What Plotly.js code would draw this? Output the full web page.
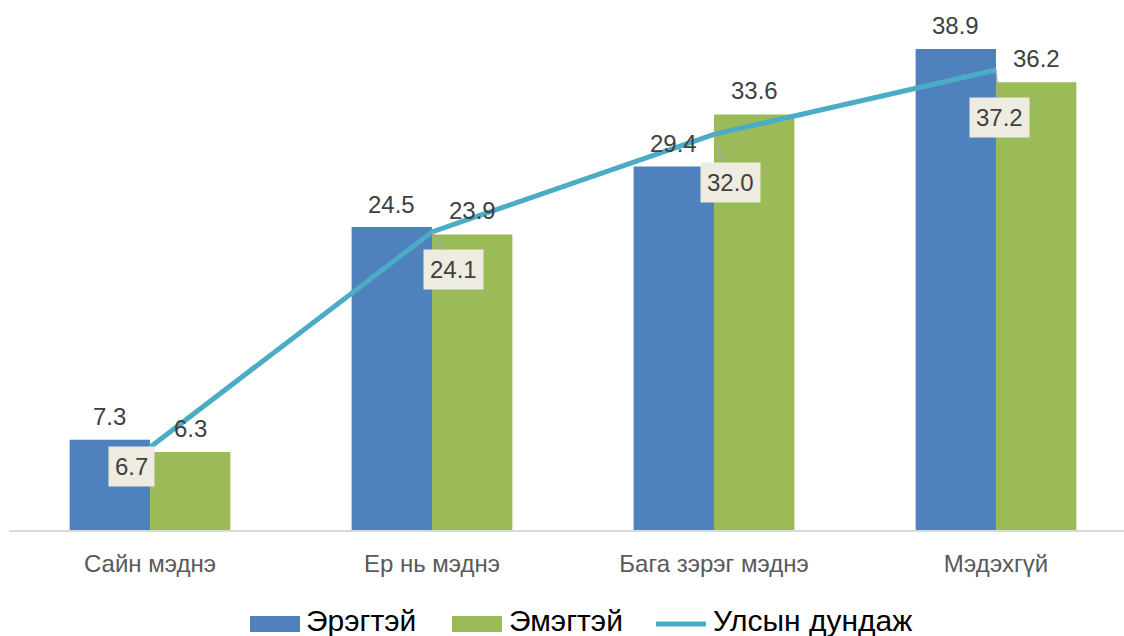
<!DOCTYPE html>
<html>
<head>
<meta charset="utf-8">
<script src="https://cdn.plot.ly/plotly-3.0.1.min.js"></script>
<style>html,body{margin:0;padding:0;background:#fff;}#chart{width:1124px;height:636px;}</style>
</head>
<body>
<div id="chart"></div>
<script>
// ---- data ----
const categories = ["Сайн мэднэ", "Ер нь мэднэ", "Бага зэрэг мэднэ", "Мэдэхгүй"];
const maleValues = [7.3, 24.5, 29.4, 38.9];
const femaleValues = [6.3, 23.9, 33.6, 36.2];
const nationalAvg = [6.7, 24.1, 32.0, 37.2];
const seriesNames = ["Эрэгтэй", "Эмэгтэй", "Улсын дундаж"];

// ---- styles ----
const blue = "#4F81BD", green = "#9BBB59", teal = "#4BACC6";
const barW = 0.285;
const avgLabelOffsets = [[-19, 19], [22, 38], [17, 48], [4, 48]];
const xIdx = categories.map((c, i) => i);

const traces = [
  {type: "bar", x: xIdx, y: maleValues, name: seriesNames[0], width: barW, offset: -barW,
   marker: {color: blue}, hoverinfo: "y"},
  {type: "bar", x: xIdx, y: femaleValues, name: seriesNames[1], width: barW, offset: 0,
   marker: {color: green}, hoverinfo: "y"},
  {type: "scatter", mode: "lines", x: xIdx, y: nationalAvg, name: seriesNames[2],
   line: {color: teal, width: 5}, hoverinfo: "y"}
];

const annotations = [];
const labelFont = {family: "Liberation Sans, Arial, sans-serif", size: 24, color: "#404040"};
maleValues.forEach((v, i) => annotations.push({x: i - barW / 2, y: v, xref: "x", yref: "y",
  text: v.toFixed(1), showarrow: false, yanchor: "middle", yshift: 23, font: labelFont}));
femaleValues.forEach((v, i) => annotations.push({x: i + barW / 2, y: v, xref: "x", yref: "y",
  text: v.toFixed(1), showarrow: false, yanchor: "middle", yshift: 24, font: labelFont}));
nationalAvg.forEach((v, i) => annotations.push({x: i, y: v, xref: "x", yref: "y",
  text: v.toFixed(1), showarrow: true, arrowhead: 0, arrowwidth: 1.5, arrowcolor: "#A6A6A6",
  ax: avgLabelOffsets[i][0], ay: avgLabelOffsets[i][1], bgcolor: "#EEECE1", borderpad: 6,
  font: labelFont}));

// ---- custom legend ----
const L = 9, W = 1115, T = 0, H = 530;
const px = X => (X - L) / W;
const py = Y => (T + H - Y) / H;
const legendFont = {family: "Liberation Sans, Arial, sans-serif", size: 30, color: "#000000"};
const shapes = [
  {type: "rect", xref: "paper", yref: "paper", x0: px(250), x1: px(300), y0: py(616), y1: py(632),
   fillcolor: blue, line: {width: 0}},
  {type: "rect", xref: "paper", yref: "paper", x0: px(452), x1: px(502), y0: py(616), y1: py(632),
   fillcolor: green, line: {width: 0}},
  {type: "line", xref: "paper", yref: "paper", x0: px(656), x1: px(706), y0: py(624), y1: py(624),
   line: {color: teal, width: 5}}
];
[[304, seriesNames[0]], [507, seriesNames[1]], [711, seriesNames[2]]].forEach(([X, t]) =>
  annotations.push({xref: "paper", yref: "paper", x: px(X), y: py(620), xanchor: "left",
    yanchor: "middle", text: t, showarrow: false, font: legendFont}));

const layout = {
  width: 1124, height: 636,
  margin: {l: L, r: 0, t: T, b: 636 - H - T},
  paper_bgcolor: "#ffffff", plot_bgcolor: "#ffffff",
  showlegend: false,
  xaxis: {range: [-0.5, 3.454], tickvals: xIdx, ticktext: categories, showgrid: false,
    zeroline: false, showline: true, linecolor: "#D9D9D9", linewidth: 2, ticks: "",
    ticklabelstandoff: 11,
    tickfont: {family: "Liberation Sans, Arial, sans-serif", size: 24, color: "#595959"}},
  yaxis: {range: [0, 42.86], visible: false, showgrid: false, zeroline: false},
  annotations: annotations,
  shapes: shapes
};

Plotly.newPlot("chart", traces, layout, {displayModeBar: false, staticPlot: true});
</script>
</body>
</html>
